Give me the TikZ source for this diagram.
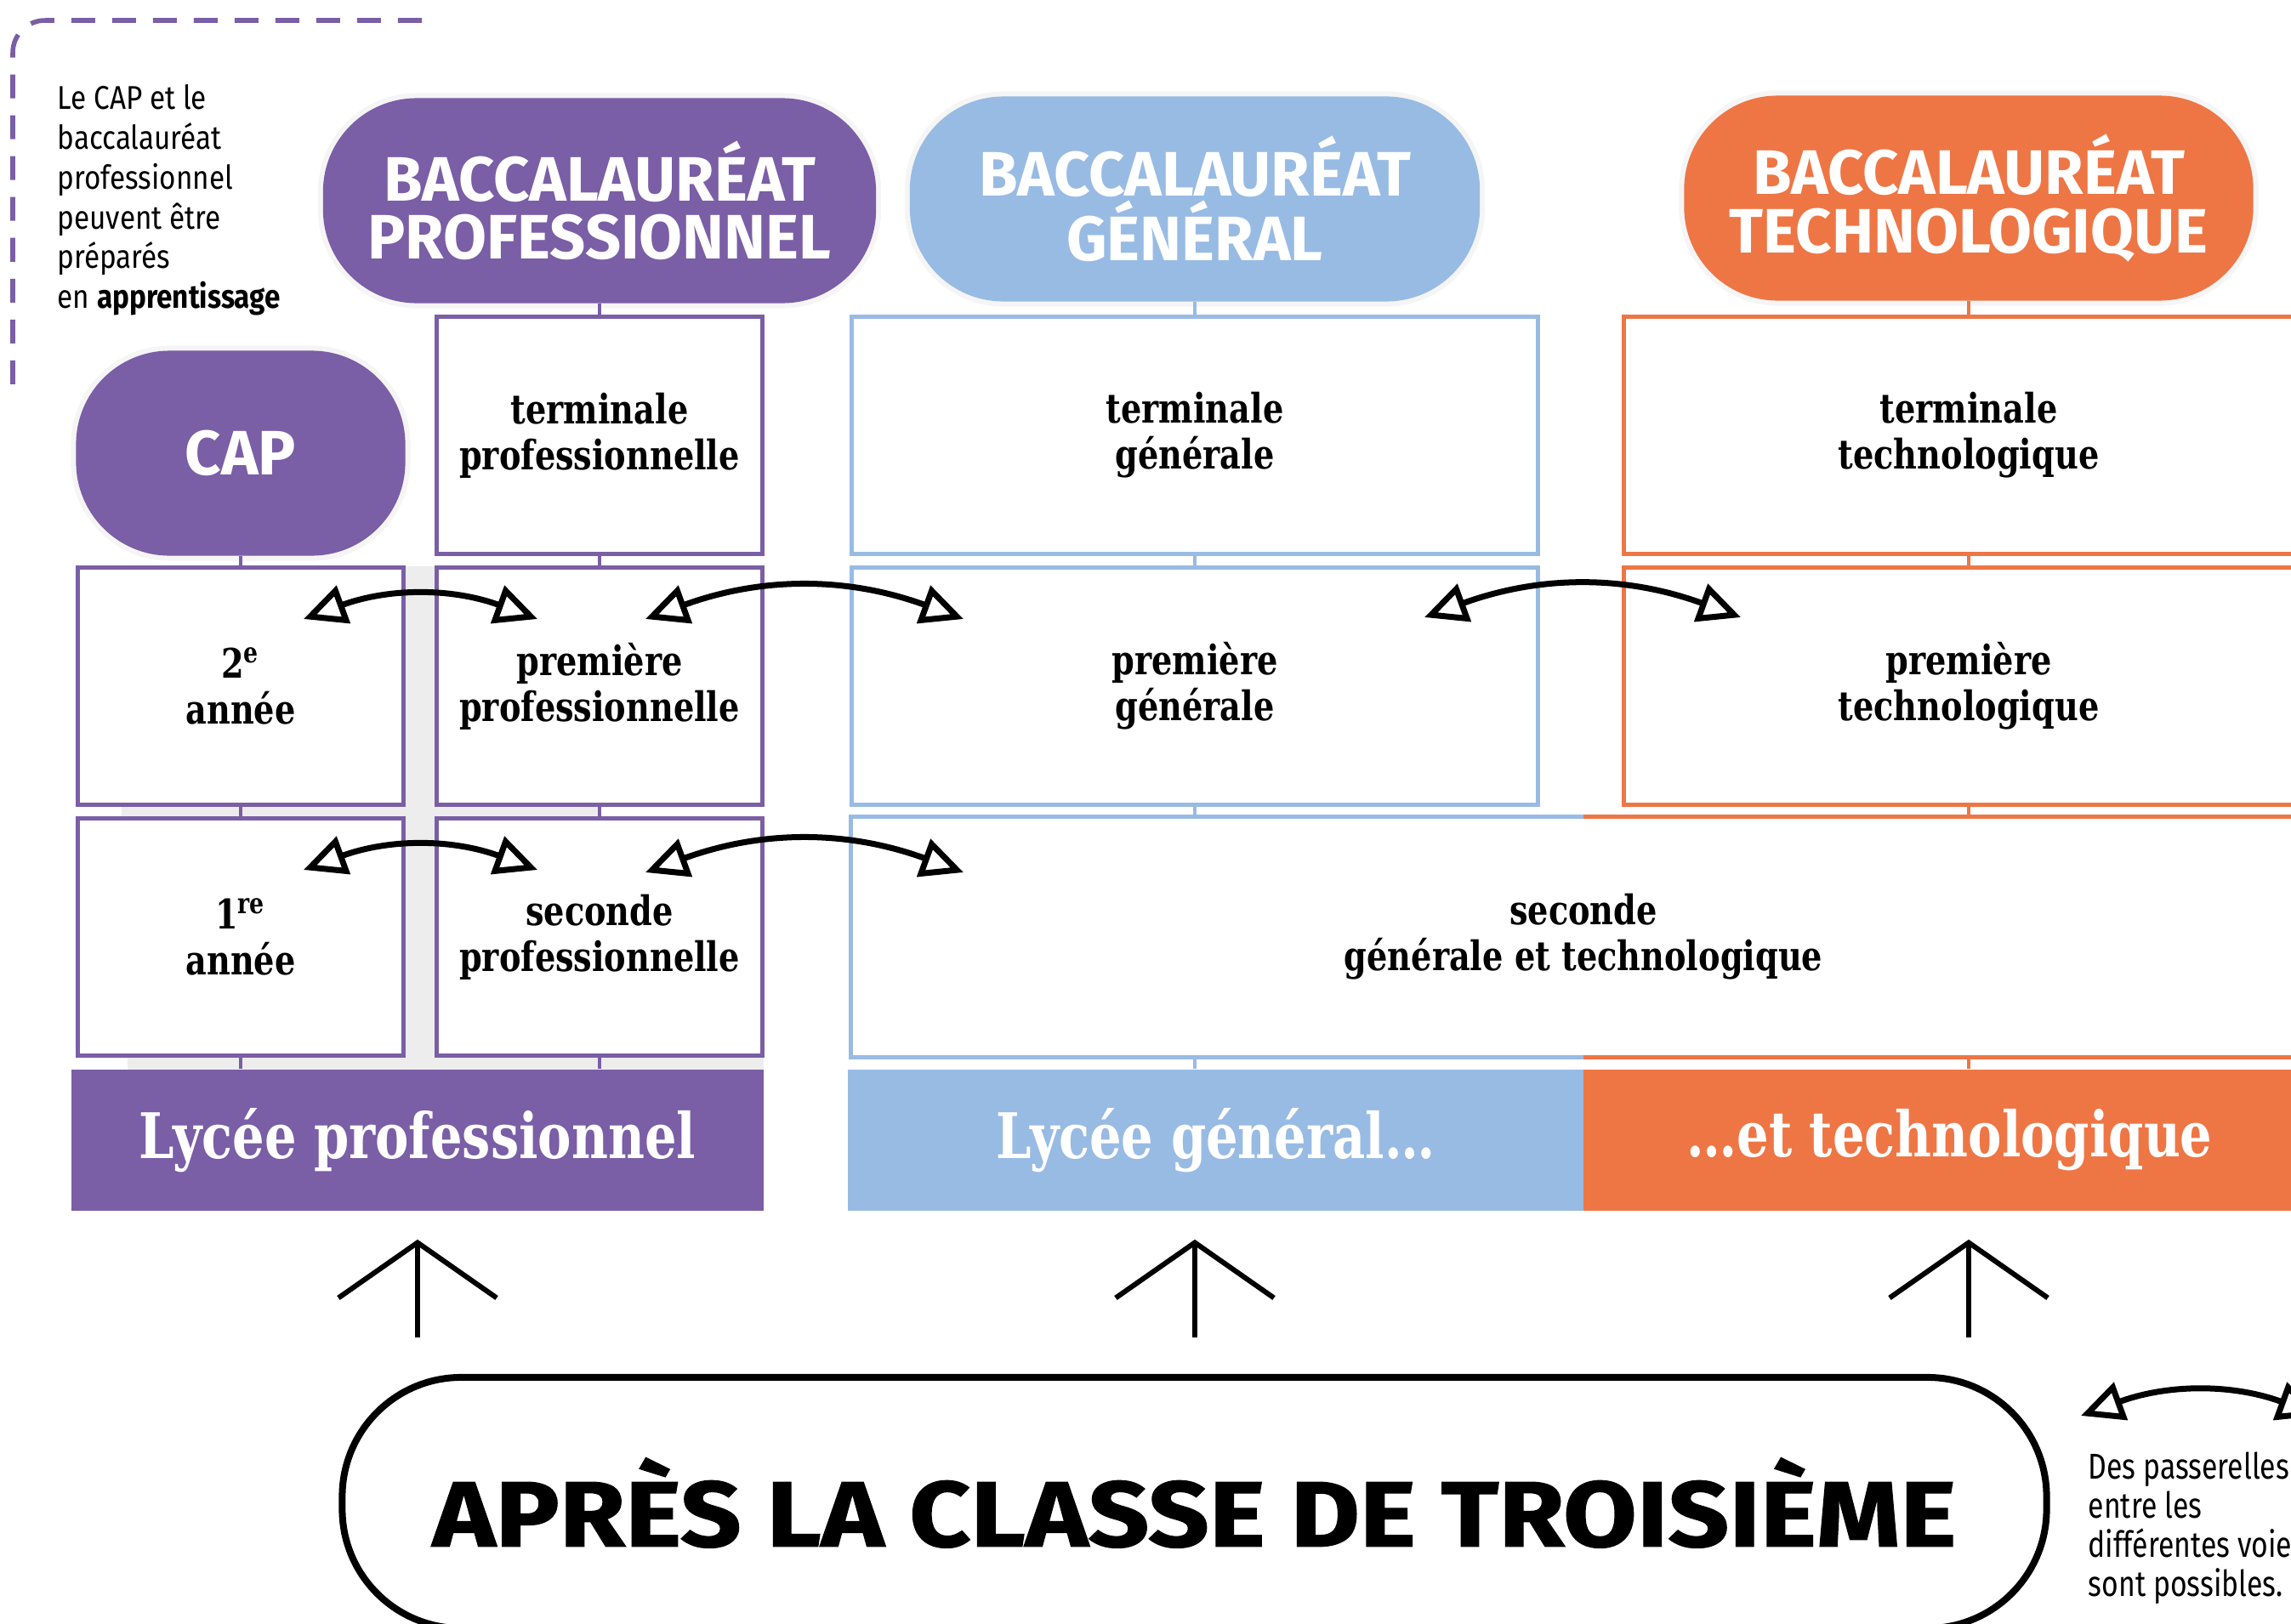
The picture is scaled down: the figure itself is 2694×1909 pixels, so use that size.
\documentclass[tikz,border=0pt]{standalone}
\usepackage{fontspec}
\setmainfont{DejaVu Serif}
\newfontfamily\slab[FakeStretch=0.8]{DejaVu Serif}
\newfontfamily\titre{Fira Sans}
\newfontfamily\titrelarge[FakeStretch=1.15,FakeBold=1.2]{Fira Sans}
\newfontfamily\etroit[FakeStretch=0.86]{Fira Sans}
\newfontfamily\legende[FakeStretch=0.8]{Fira Sans}
\usetikzlibrary{arrows.meta}
\definecolor{colpro}{HTML}{7A5EA6}
\definecolor{colgen}{HTML}{98BBE4}
\definecolor{coltec}{HTML}{EE7645}
\tikzset{
  classe/.style={draw, fill=white, line width=0.05cm, inner sep=0pt, align=center,
    minimum height=2.78cm, font=\slab\bfseries\fontsize{13.6}{15.3}\selectfont},
  bac/.style={rounded corners=1.1cm, inner sep=0pt, align=center, text=white,
    minimum height=2.41cm, preaction={draw=black!4, line width=0.12cm},
    font=\titre\bfseries\fontsize{21}{19.5}\selectfont},
  lycee/.style={inner sep=0pt, text=white, minimum height=1.66cm,
    font=\slab\bfseries\fontsize{21}{24}\selectfont},
  lien/.style={line width=0.045cm},
  passerelle/.style={{Triangle[open,length=0.5cm,width=0.46cm]}-{Triangle[open,length=0.5cm,width=0.46cm]},
    line width=0.07cm, bend left=20},
  montee/.style={-{Straight Barb[length=0.65cm,width=1.86cm]}, line width=0.06cm},
  note/.style={inner sep=0pt, align=left, font=\etroit\fontsize{11}{13.3}\selectfont}
}
\begin{document}
\begin{tikzpicture}[x=0.01cm,y=-0.01cm]
\useasboundingbox (0,0) rectangle (2694,1909);
% fond gris entre les colonnes
\fill[black!7] (477,666) rectangle (511,1258);
\fill[black!7] (143,949) rectangle (704,961);
\fill[black!7] (150,1244) rectangle (898,1258);
% cadre apprentissage
\draw[colpro, line width=0.055cm, dash pattern=on 0.28cm off 0.2cm, rounded corners=0.38cm] (496,24) -- (15,24) -- (15,460);
\node[note, anchor=north west] (appr) at (67,99) {Le CAP et le\\baccalauréat\\professionnel\\peuvent être\\préparés\\en \textbf{apprentissage}};
% diplomes
\node[bac, fill=colpro, minimum width=6.5cm] (bacpro) at (705,236) {BACCALAURÉAT\\PROFESSIONNEL};
\node[bac, fill=colpro, minimum width=3.87cm] (cap) at (283,533) {CAP};
\node[bac, fill=colgen, minimum width=6.7cm] (bacgen) at (1405,234) {BACCALAURÉAT\\GÉNÉRAL};
\node[bac, fill=coltec, minimum width=6.69cm] (bactec) at (2315,233) {BACCALAURÉAT\\TECHNOLOGIQUE};
% classes
\node[classe, draw=colpro, minimum width=3.82cm] (terpro) at (705,512) {terminale\\professionnelle};
\node[classe, draw=colpro, minimum width=3.82cm] (prepro) at (705,807) {première\\professionnelle};
\node[classe, draw=colpro, minimum width=3.82cm] (secpro) at (705,1102) {seconde\\professionnelle};
\node[classe, draw=colpro, minimum width=3.83cm] (an2) at (283,807) {2\textsuperscript{e}\\année};
\node[classe, draw=colpro, minimum width=3.83cm] (an1) at (283,1102) {1\textsuperscript{re}\\année};
\node[classe, draw=colgen, minimum width=8.07cm] (tergen) at (1405,512) {terminale\\générale};
\node[classe, draw=colgen, minimum width=8.07cm] (pregen) at (1405,807) {première\\générale};
\node[classe, draw=coltec, minimum width=8.1cm] (tertec) at (2315,512) {terminale\\technologique};
\node[classe, draw=coltec, minimum width=8.1cm] (pretec) at (2315,807) {première\\technologique};
\node[classe, draw=none, minimum width=17.18cm] (secgt) at (1862,1102) {seconde\\générale et technologique};
\draw[colgen, line width=0.05cm] (secgt.north) -- (secgt.north west) -- (secgt.south west) -- (secgt.south);
\draw[coltec, line width=0.05cm] (secgt.north) -- (secgt.north east) -- (secgt.south east) -- (secgt.south);
% lycees
\node[lycee, fill=colpro, minimum width=8.14cm] (lycpro) at (491,1341) {Lycée professionnel};
\node[lycee, fill=colgen, minimum width=8.65cm] (lycgen) at (1429.5,1341) {Lycée général…};
\node[lycee, fill=coltec, minimum width=8.61cm] (lyctec) at (2292.5,1341) {…et technologique};
% liens entre les classes
\foreach \a/\b in {bacpro/terpro, terpro/prepro, prepro/secpro, cap/an2, an2/an1}
  \draw[lien, colpro] (\a) -- (\b);
\foreach \a in {secpro, an1}
  \draw[lien, colpro] (\a.south) -- (\a.south |- lycpro.north);
\draw[lien, colgen] (bacgen) -- (tergen);
\draw[lien, colgen] (tergen) -- (pregen);
\draw[lien, coltec] (bactec) -- (tertec);
\draw[lien, coltec] (tertec) -- (pretec);
\foreach \a/\c in {pregen/colgen, pretec/coltec} {
  \draw[lien, \c] (\a.south) -- (\a.south |- secgt.north);
  \draw[lien, \c] (secgt.south -| \a) -- (\a |- lycgen.north);
}
% passerelles
\coordinate (pa1) at (357,728);
\coordinate (pb1) at (632,728);
\coordinate (pa2) at (759,728);
\coordinate (pb2) at (1133,728);
\coordinate (pa3) at (1675,726);
\coordinate (pb3) at (2047,726);
\coordinate (pa4) at (357,1023);
\coordinate (pb4) at (632,1023);
\coordinate (pa5) at (759,1026);
\coordinate (pb5) at (1133,1026);
\foreach \i in {1,...,5}
  \draw[passerelle] (pa\i) to (pb\i);
% apres la troisieme
\node[draw, line width=0.08cm, rounded corners=1.4cm, minimum width=20.03cm, minimum height=2.95cm,
  font=\titrelarge\bfseries\fontsize{31}{31}\selectfont] (apres) at (1404.5,1767.5) {APRÈS LA CLASSE DE TROISIÈME};
\draw[montee, shorten <=0.43cm, shorten >=0.33cm] (apres.north -| lycpro) -- (lycpro.south);
\foreach \b in {bacgen, bactec}
  \draw[montee, shorten <=0.43cm, shorten >=0.33cm] (apres.north -| \b) -- (lycgen.south -| \b);
% legende
\coordinate (la) at (2447,1665);
\coordinate (lb) at (2728,1665);
\draw[passerelle] (la) to (lb);
\node[note, anchor=north west, font=\legende\fontsize{12}{13.1}\selectfont] (leg) at (2455,1707) {Des passerelles\\entre les\\différentes voies\\sont possibles.};
\end{tikzpicture}
\end{document}
